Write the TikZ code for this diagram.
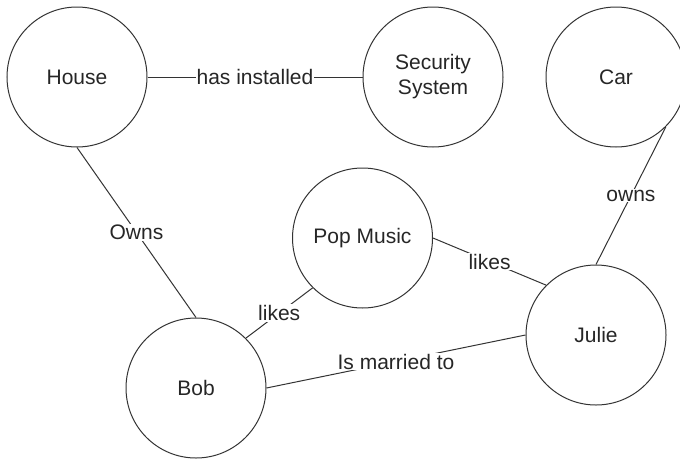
\documentclass[tikz,border=0pt]{standalone}
\usepackage{fontspec}
\setmainfont{Liberation Sans}
\begin{document}
\begin{tikzpicture}[x=1pt,y=-1pt,
  concept/.style={circle,draw=black!80,line width=1pt,minimum size=140pt,inner sep=0pt,align=center,font=\fontsize{21}{25}\selectfont,text=black!85},
  rel/.style={draw=black!80,line width=1pt},
  lbl/.style={fill=white,inner sep=1pt,font=\fontsize{21}{25}\selectfont,text=black!85}]
\useasboundingbox (0,0) rectangle (680,461);
\clip (0,0) rectangle (680,461);
\node[concept] (house) at (77,77) {House};
\node[concept] (sec) at (433,77) {Security\\System};
\node[concept] (car) at (616,77) {Car};
\node[concept] (pop) at (362.5,238) {Pop Music};
\node[concept] (julie) at (596,335) {Julie};
\node[concept] (bob) at (196,388) {Bob};
\draw[rel] (house.east) -- node[lbl] {has installed} (sec.west);
\draw[rel] (house.south) -- node[lbl] {Owns} (bob.north);
\draw[rel] (car.south east) -- node[lbl] {owns} (julie.north);
\draw[rel] (pop.east) -- node[lbl] {likes} (julie.north west);
\draw[rel] (bob.north east) -- node[lbl] {likes} (pop.south west);
\draw[rel] (bob.east) -- node[lbl] {Is married to} (julie.west);
\end{tikzpicture}
\end{document}
